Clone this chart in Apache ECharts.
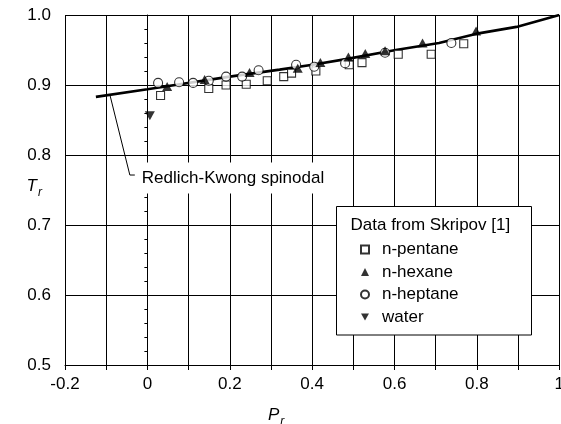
<!DOCTYPE html>
<html><head><meta charset="utf-8">
<script src="https://cdn.jsdelivr.net/npm/echarts@6/dist/echarts.min.js"></script>
<style>html,body{margin:0;padding:0;background:#fff}#c{width:561px;height:424px}</style>
</head><body><div id="c"></div>
<script>
const xTickLabels = ['-0.2','0','0.2','0.4','0.6','0.8','1'];
const yTickLabels = ['0.5','0.6','0.7','0.8','0.9','1.0'];

const spinodalP = [-0.125, 0.0, 0.2, 0.321, 0.401, 0.482, 0.603, 0.708, 0.797, 0.896, 1.0];
const spinodalT = [0.883, 0.894, 0.912, 0.922, 0.929, 0.937, 0.950, 0.960, 0.973, 0.983, 1.0];

const pentaneP = [0.032, 0.149, 0.191, 0.240, 0.291, 0.331, 0.350, 0.409, 0.490, 0.521, 0.609, 0.689, 0.768];
const pentaneT = [0.885, 0.895, 0.900, 0.901, 0.906, 0.912, 0.917, 0.920, 0.929, 0.932, 0.944, 0.944, 0.959];

const hexaneP = [0.048, 0.139, 0.248, 0.365, 0.420, 0.488, 0.529, 0.577, 0.668, 0.798];
const hexaneT = [0.898, 0.908, 0.918, 0.924, 0.932, 0.940, 0.945, 0.949, 0.960, 0.977];

const heptaneP = [0.026, 0.077, 0.111, 0.149, 0.191, 0.230, 0.270, 0.361, 0.405, 0.480, 0.577, 0.738];
const heptaneT = [0.903, 0.904, 0.903, 0.906, 0.912, 0.912, 0.921, 0.929, 0.926, 0.931, 0.946, 0.960];

const waterP = [0.006];
const waterT = [0.856];

const leaderP = [-0.091, -0.0426, -0.0305];
const leaderT = [0.886, 0.7714, 0.7714];
const leaderText = 'Redlich-Kwong spinodal';
const legendTitle = 'Data from Skripov [1]';

const zip = (a, b) => a.map((v, i) => [v, b[i]]);
const FONT = '"Liberation Sans", Arial, Helvetica, sans-serif';
const findLabel = (arr, v) => arr.find(l => Math.abs(parseFloat(l) - v) < 1e-6) || '';

const chart = echarts.init(document.getElementById('c'), null, {renderer: 'canvas'});
const hollow = {color: '#fff', borderColor: '#000', borderWidth: 1.1};
const nameRich = {
  i: {fontStyle: 'italic', fontSize: 17, fontFamily: FONT, color: '#000'},
  s: {fontStyle: 'italic', fontSize: 12, fontFamily: FONT, color: '#000', padding: [13, 0, 0, 1]}
};
chart.setOption({
  animation: false,
  textStyle: {fontFamily: FONT, color: '#000'},
  grid: {left: 65, right: 1.7, top: 15, bottom: 59, containLabel: false, outerBoundsMode: 'none'},
  xAxis: {
    type: 'value', min: -0.2, max: 1, interval: 0.1,
    axisLine: {lineStyle: {color: '#000', width: 1}},
    axisTick: {show: true, inside: false, length: 5, lineStyle: {color: '#000'}},
    splitLine: {show: true, lineStyle: {color: '#000', width: 1}},
    axisLabel: {fontSize: 17, color: '#000', fontFamily: FONT, margin: 11,
      formatter: v => findLabel(xTickLabels, v)},
    name: '{i|P}{s|r}', nameLocation: 'middle', nameGap: 38, nameMoveOverlap: false,
    nameTextStyle: {rich: nameRich, padding: [0, 72, 0, 0]}
  },
  yAxis: {
    type: 'value', min: 0.5, max: 1.0, interval: 0.1,
    axisLine: {show: true, lineStyle: {color: '#000', width: 1}},
    axisTick: {show: true, inside: false, length: 5, lineStyle: {color: '#000'}},
    minorTick: {show: true, splitNumber: 5, length: 3, lineStyle: {color: '#000'}},
    splitLine: {show: true, lineStyle: {color: '#000', width: 1}},
    axisLabel: {fontSize: 17, color: '#000', fontFamily: FONT, margin: 14,
      formatter: v => findLabel(yTickLabels, v)},
    name: '{i|T}{s|r}', nameLocation: 'middle', nameRotate: 0, nameGap: 23, nameMoveOverlap: false,
    nameTextStyle: {rich: nameRich, padding: [0, 0, 8, 0]}
  },
  legend: {
    orient: 'vertical', left: 355, top: 236,
    itemWidth: 8, itemHeight: 8, itemGap: 5.5,
    textStyle: {fontSize: 17, fontFamily: FONT, color: '#000', lineHeight: 17, padding: [0, 0, 0, 8]},
    data: ['n-pentane', 'n-hexane', 'n-heptane', 'water'],
    selectedMode: false, z: 10
  },
  graphic: [
    {type: 'rect', z: 8, shape: {x: 336.5, y: 206.5, width: 195, height: 128.5},
     style: {fill: '#fff', stroke: '#000', lineWidth: 1}},
    {type: 'text', z: 11, x: 350.5, y: 225,
     style: {text: legendTitle, font: '17px ' + FONT, fill: '#000', verticalAlign: 'middle', align: 'left'}}
  ],
  series: [
    {name: 'spinodal', type: 'line', data: zip(spinodalP, spinodalT), symbol: 'none',
     lineStyle: {color: '#000', width: 2.6}, z: 2, silent: true},
    {name: 'leader', type: 'line', data: zip(leaderP, leaderT), symbol: 'none',
     lineStyle: {color: '#000', width: 1}, z: 2, silent: true,
     endLabel: {show: true, formatter: leaderText, fontSize: 17, fontFamily: FONT, color: '#000',
       backgroundColor: '#fff', padding: [7, 4, 7, 4], distance: 3, offset: [0, 3]}},
    {name: 'n-pentane', type: 'scatter', data: zip(pentaneP, pentaneT), symbol: 'rect',
     symbolSize: 8, itemStyle: hollow, z: 3},
    {name: 'n-hexane', type: 'scatter', data: zip(hexaneP, hexaneT), symbol: 'triangle',
     symbolSize: [10, 9], itemStyle: {color: '#000'}, z: 4},
    {name: 'n-heptane', type: 'scatter', data: zip(heptaneP, heptaneT), symbol: 'circle',
     symbolSize: 9, itemStyle: hollow, z: 3},
    {name: 'water', type: 'scatter', data: zip(waterP, waterT), symbol: 'path://M0,0L10,0L5,9Z',
     symbolSize: [10, 9], itemStyle: {color: '#000'}, z: 4}
  ]
});
</script></body></html>
